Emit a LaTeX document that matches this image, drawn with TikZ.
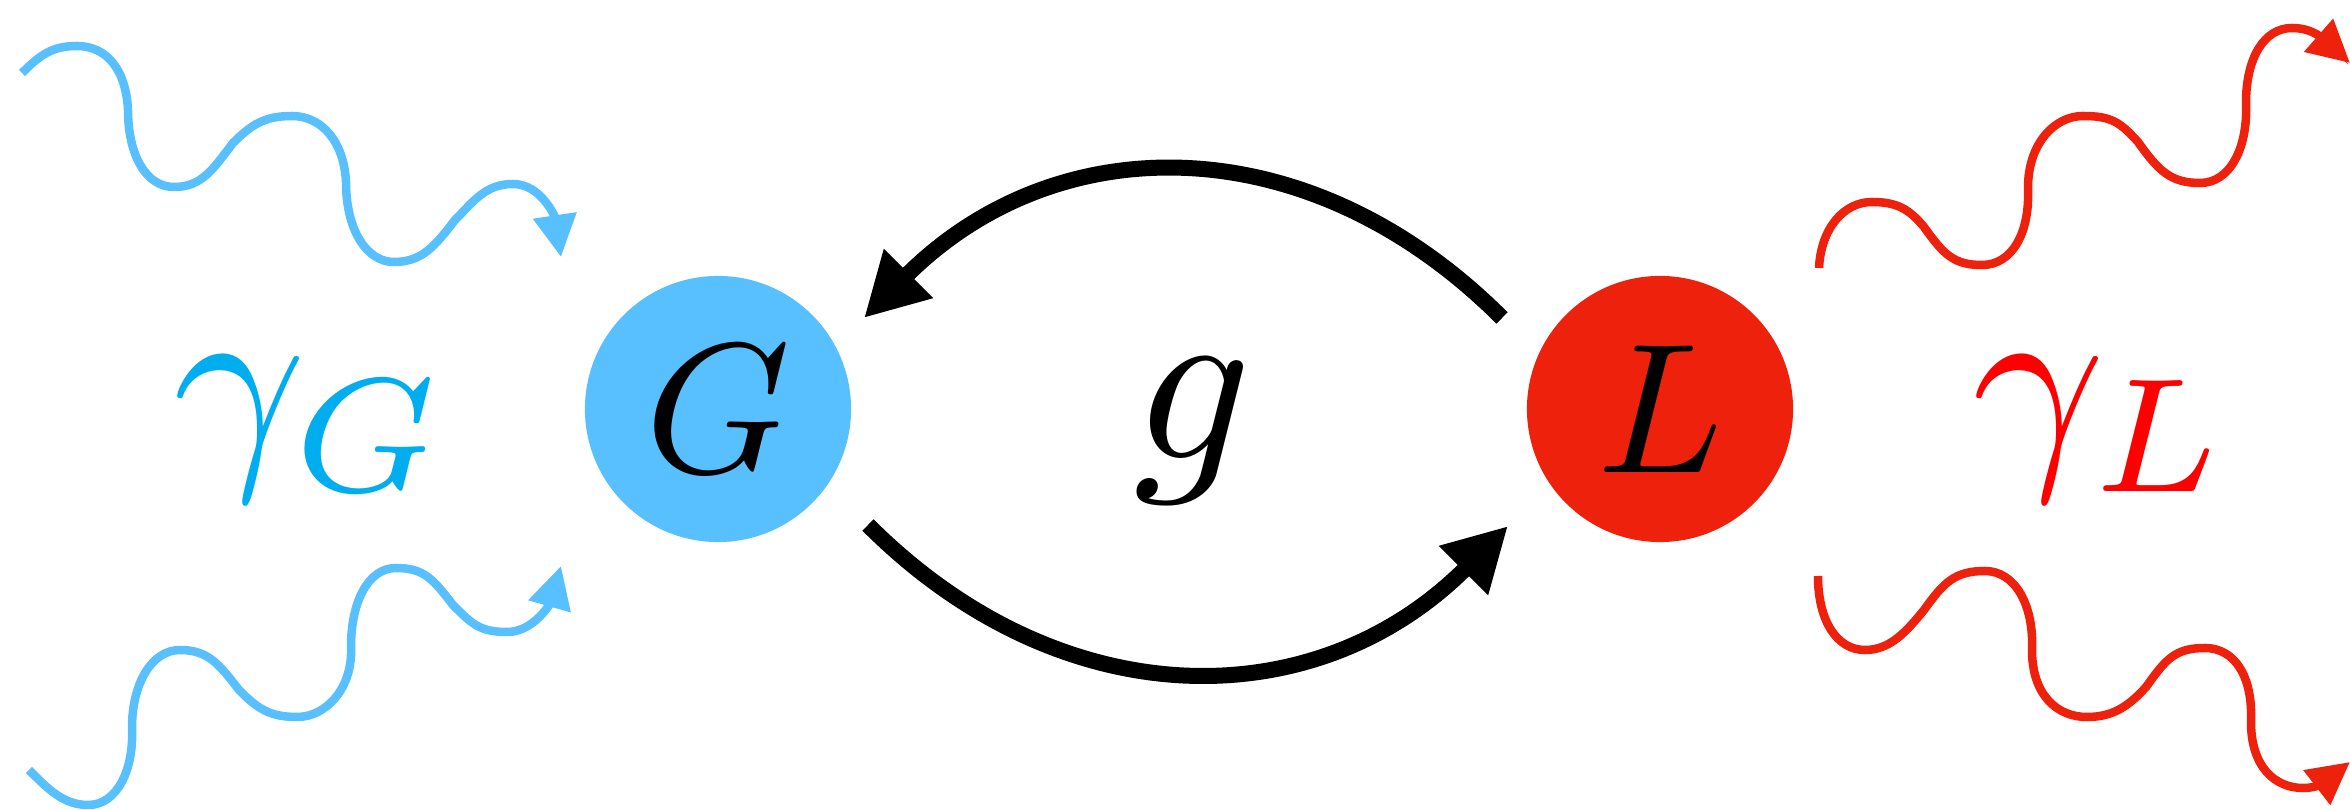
\documentclass[tikz,border=0pt]{standalone}
\usetikzlibrary{arrows.meta}
\definecolor{gblue}{HTML}{58C0FF}
\definecolor{gamG}{HTML}{00AEEF}
\definecolor{lred}{HTML}{EE220C}
\definecolor{gamL}{HTML}{FF0000}
\tikzset{
  blob/.style={circle, inner sep=0pt, minimum size=2.66cm},
  wave/.style={line width=0.085cm, -{Triangle[length=0.42cm,width=0.42cm]}},
  coupling/.style={line width=0.16cm, -{Triangle[length=0.63cm,width=0.65cm]}},
  lab/.style={inner sep=0pt},
}
\newcommand{\bigG}[1]{\scalebox{5.26}{$#1$}}
\newcommand{\bigL}[1]{\scalebox{6.6}{$#1$}}
\begin{document}
\begin{tikzpicture}[x=0.01cm,y=-0.01cm]
\useasboundingbox (0,0) rectangle (2350,810);

% nodes
\node[blob, fill=gblue] (G) at (718,409) {\bigG{G}};
\node[blob, fill=lred] (L) at (1660,409) {\bigG{L}};
\node[lab, anchor=base] (g) at (1193,459) {\bigL{g}};
\node[lab, anchor=base west, text=gamG] (gG) at (173,457) {\bigL{\gamma_G}};
\node[lab, anchor=base west, text=gamL] (gL) at (1972,457) {\bigL{\gamma_L}};

% coupling arrows
\coordinate (t1) at (1502,318);
\coordinate (h1) at (864,318);
\coordinate (t2) at (868,525);
\coordinate (h2) at (1508,526);
\draw[coupling] (t1) .. controls +(-193,-193) and +(193,-193) .. (h1);
\draw[coupling] (t2) .. controls +(193,193) and +(-193,193) .. (h2);

% blue top wave
\draw[wave, gblue] (22,73)
  .. controls +(18,-18) and +(-25,0) .. (77,46)
  .. controls +(30,0) and +(-2,-40) .. (128,110)
  .. controls +(0,45) and +(-28,0) .. (174,187)
  .. controls +(28,0) and +(-20,26) .. (233,143)
  .. controls +(18,-18) and +(-28,0) .. (292,116)
  .. controls +(30,0) and +(-2,-40) .. (346,182)
  .. controls +(0,47) and +(-28,0) .. (394,262)
  .. controls +(28,0) and +(-20,26) .. (455,220)
  .. controls +(18,-18) and +(-28,0) .. (513,184)
  .. controls +(28,0) and +(-6,-40) .. (561,257);

% blue bottom wave
\draw[wave, gblue] (29,770)
  .. controls +(18,18) and +(-25,0) .. (88,805)
  .. controls +(30,0) and +(2,40) .. (132,728)
  .. controls +(0,-45) and +(-28,0) .. (180,650)
  .. controls +(28,0) and +(-20,-26) .. (239,690)
  .. controls +(18,18) and +(-28,0) .. (297,717)
  .. controls +(30,0) and +(2,40) .. (351,647)
  .. controls +(0,-45) and +(-28,0) .. (396,568)
  .. controls +(28,0) and +(-20,-26) .. (453,605)
  .. controls +(18,18) and +(-28,0) .. (507,632)
  .. controls +(28,0) and +(-10,35) .. (561,566);

% red top wave
\draw[wave, lred] (1819,268)
  .. controls +(2,-40) and +(-28,0) .. (1872,202)
  .. controls +(25,0) and +(-15,-18) .. (1924,227)
  .. controls +(20,28) and +(-28,0) .. (1982,265)
  .. controls +(30,0) and +(2,45) .. (2028,188)
  .. controls +(0,-45) and +(-28,0) .. (2083,116)
  .. controls +(28,0) and +(-18,-20) .. (2138,142)
  .. controls +(20,28) and +(-30,0) .. (2200,183)
  .. controls +(30,0) and +(2,45) .. (2246,103)
  .. controls +(0,-45) and +(-28,0) .. (2292,28)
  .. controls +(22,0) and +(-25,-22) .. (2350,63);

% red bottom wave
\draw[wave, lred] (1818,576)
  .. controls +(0,45) and +(-28,0) .. (1865,650)
  .. controls +(25,0) and +(-18,22) .. (1924,610)
  .. controls +(20,-28) and +(-30,0) .. (1985,571)
  .. controls +(30,0) and +(2,-45) .. (2032,650)
  .. controls +(0,45) and +(-30,0) .. (2087,717)
  .. controls +(25,0) and +(-18,20) .. (2146,687)
  .. controls +(20,-28) and +(-30,0) .. (2205,648)
  .. controls +(30,0) and +(2,-45) .. (2251,722)
  .. controls +(0,45) and +(-28,0) .. (2303,788)
  .. controls +(18,0) and +(-22,17) .. (2350,762);
\end{tikzpicture}
\end{document}
